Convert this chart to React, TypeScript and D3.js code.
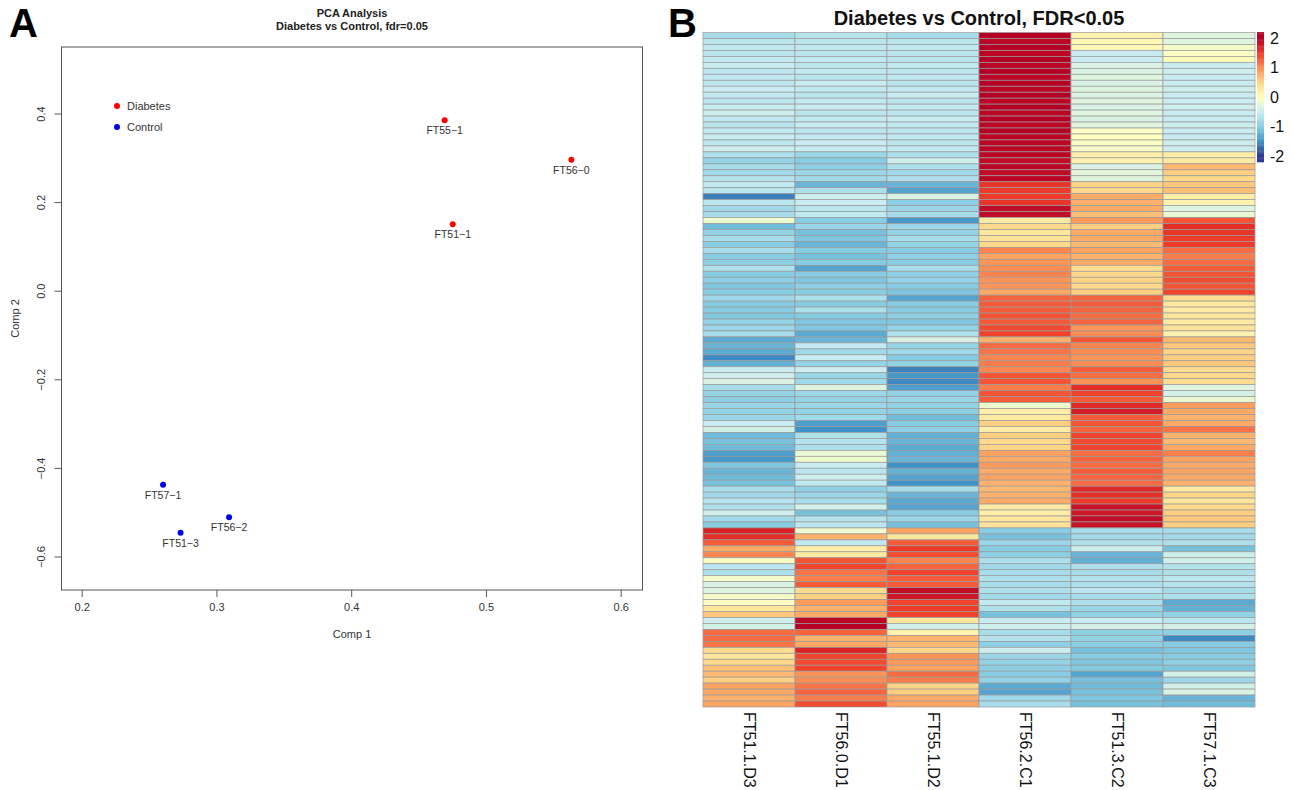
import React from 'react';
import * as d3 from 'd3';

// ---------- PCA data ----------
const pcaSamples = ['FT55−1', 'FT56−0', 'FT51−1', 'FT57−1', 'FT56−2', 'FT51−3'];
const pcaComp1 = [0.469, 0.563, 0.475, 0.26, 0.309, 0.273];
const pcaComp2 = [0.386, 0.297, 0.151, -0.437, -0.51, -0.545];
const pcaGroup = ['Diabetes', 'Diabetes', 'Diabetes', 'Control', 'Control', 'Control'];
const groups = ['Diabetes', 'Control'];
const groupColors = ['#ff0000', '#0000ee'];
const xTicks = [0.2, 0.3, 0.4, 0.5, 0.6];
const yTicks = [-0.6, -0.4, -0.2, 0.0, 0.2, 0.4];

// ---------- Heatmap data ----------
const columns = ['FT51.1.D3', 'FT56.0.D1', 'FT55.1.D2', 'FT56.2.C1', 'FT51.3.C2', 'FT57.1.C3'];
const col1 = [
  -0.75, -0.6, -0.55, -0.6, -0.55, -0.5, -0.6, -0.55, -0.6, -0.5, -0.55, -0.6, -0.5, -0.45, -0.55, -0.6, -0.55, -0.5, -0.6, -0.45,
  -0.7, -0.9, -0.75, -0.8, -0.65, -0.55, -0.6, -1.6, -0.6, -0.8, -0.75, -0.15, -1.15, -0.9, -0.75, -1.0, -0.75, -1.0,
  -0.95, -0.7, -1.0, -0.95, -1.05, -1.0, -0.8, -1.0, -1.0, -1.05, -0.9, -0.85, -0.75, -1.3, -1.2, -1.3, -1.55, -1.25, -0.5, -0.45,
  -0.35, -0.75, -0.9, -0.95, -0.85, -0.9, -0.85, -0.5, -0.4, -1.15, -1.1, -1.15, -1.4, -1.45, -1.05, -1.2, -1.15, -1.1, -0.75, -0.8,
  -0.65, -0.7, -0.45, -0.8, -1.0, 1.7, 1.6, 1.3, 0.8, 1.05, -0.05, -0.6, -0.7, -0.1, -0.35, -0.3, -0.1, -0.05,
  0.3, 0.6, -0.45, -0.4, 1.2, 1.2, 1.15, 0.4, 0.3, 0.45, 0.65, 0.7, 0.55, 0.85, 0.8, 0.75, 0.85,
];
const col2 = [
  -0.65, -0.6, -0.55, -0.6, -0.55, -0.6, -0.55, -0.6, -0.5, -0.55, -0.6, -0.55, -0.5, -0.6, -0.55, -0.5, -0.6, -0.55, -0.5, -0.5,
  -0.85, -1.0, -0.95, -0.85, -0.8, -1.2, -0.7, -0.45, -0.5, -0.6, -0.55, -1.0, -0.85, -1.1, -1.05, -1.2, -1.0, -1.1,
  -1.0, -1.35, -1.0, -1.05, -0.95, -1.0, -0.7, -1.0, -0.7, -1.0, -1.05, -1.05, -1.3, -1.2, -0.55, -0.8, -0.5, -0.9, -0.45, -0.85,
  -0.8, -0.3, -0.85, -0.9, -0.85, -0.9, -0.8, -1.4, -1.5, -0.7, -0.65, -0.7, -0.2, -0.15, -0.5, -0.6, -0.45, -0.55, -0.95, -0.85,
  -0.75, -0.4, -1.1, -0.65, -0.6, -0.15, 0.75, -0.55, 0.2, 0.25, 1.35, 1.45, 1.15, 1.1, 1.3, 0.4, 0.55, 0.9,
  0.75, 0.8, 1.95, 2.0, 1.25, 0.75, 0.8, 1.7, 1.45, 1.4, 1.45, 0.95, 1.0, 1.15, 1.25, 1.1, 1.4,
];
const col3 = [
  -0.75, -0.6, -0.55, -0.6, -0.6, -0.55, -0.6, -0.55, -0.6, -0.55, -0.5, -0.6, -0.55, -0.6, -0.5, -0.55, -0.6, -0.55, -0.6, -0.55,
  -0.7, -0.45, -0.7, -0.8, -0.7, -1.2, -1.35, -0.35, -0.95, -0.85, -0.75, -1.45, -0.85, -0.9, -0.75, -0.9, -1.0, -0.95,
  -1.0, -0.75, -0.95, -0.9, -1.0, -1.05, -1.35, -1.0, -1.0, -0.95, -1.05, -0.9, -0.7, -0.35, -0.9, -0.8, -1.0, -0.9, -1.6, -1.45,
  -1.55, -1.4, -0.9, -0.85, -0.9, -0.95, -1.15, -1.0, -0.95, -1.25, -1.2, -1.3, -1.25, -1.2, -1.5, -1.25, -1.35, -1.5, -0.75, -1.2,
  -1.3, -1.35, -1.0, -0.85, -1.1, 0.85, 0.3, 1.3, 1.5, 1.4, 1.05, 1.25, 1.45, 1.3, 1.3, 1.9, 1.8, 1.45,
  1.5, 1.45, 0.3, -0.4, 0.15, 0.75, 0.7, 0.45, 0.95, 0.9, 0.85, 1.2, 1.1, 0.5, 0.55, 0.8, 0.85,
];
const col4 = [
  2.0, 1.95, 2.0, 1.95, 2.0, 1.95, 2.0, 1.95, 2.0, 1.95, 2.0, 1.95, 2.0, 1.95, 2.0, 1.95, 2.0, 1.95, 1.95, 1.95,
  1.95, 1.9, 1.95, 1.9, 1.95, 1.55, 1.5, 1.5, 1.55, 1.9, 1.9, 0.25, 0.45, 0.3, 0.35, 0.45, 1.05, 0.85,
  0.95, 1.0, 1.05, 0.95, 0.95, 0.8, 1.25, 1.3, 1.3, 1.35, 1.3, 1.4, 1.45, 0.75, 1.2, 1.15, 1.05, 1.1, 1.05, 1.35,
  1.35, 1.1, 1.35, 1.3, -0.15, 0.2, 0.25, 0.55, 0.2, 0.55, 0.45, 0.5, 0.85, 0.8, 0.9, 0.8, 0.85, 0.75, 0.7, 0.75,
  0.8, 0.25, 0.2, 0.3, 0.35, -1.0, -1.1, -0.85, -1.0, -0.95, -0.7, -0.8, -0.75, -0.7, -0.75, -0.7, -0.8, -0.55,
  -0.7, -1.1, -0.5, -0.45, -0.75, -0.65, -0.95, -0.45, -0.85, -0.9, -0.95, -1.0, -0.9, -1.3, -1.35, -0.8, -0.75,
];
const col5 = [
  0.15, 0.1, 0.1, -0.5, -0.5, -0.35, -0.35, -0.3, -0.35, -0.3, -0.35, -0.3, -0.35, -0.3, -0.35, -0.3, -0.05, 0.0, -0.05, -0.1,
  0.2, 0.15, -0.35, -0.25, -0.3, 0.5, 0.45, 0.8, 0.75, 0.8, 0.65, 0.9, 0.55, 0.8, 0.8, 0.7, 0.85, 0.75,
  0.8, 0.4, 0.45, 0.5, 0.45, 0.55, 1.25, 1.3, 1.25, 1.2, 1.25, 0.95, 1.0, 1.35, 1.05, 1.0, 0.95, 1.0, 1.3, 1.2,
  0.95, 1.6, 1.45, 1.3, 1.65, 1.75, 1.3, 1.35, 1.25, 1.45, 1.4, 1.45, 1.2, 1.25, 1.2, 1.3, 1.25, 1.2, 1.65, 1.6,
  1.5, 1.85, 1.8, 1.9, 1.85, -0.75, -0.8, -0.7, -0.45, -1.2, -1.25, -0.7, -0.75, -0.65, -0.7, -0.6, -0.75, -0.7,
  -0.85, -0.9, -0.5, -0.4, -0.95, -0.9, -0.95, -1.1, -1.0, -1.05, -1.0, -1.35, -1.1, -1.15, -1.1, -1.05, -1.1,
];
const col6 = [
  -0.3, -0.3, -0.1, -0.05, 0.05, -0.5, -0.45, -0.5, -0.5, -0.45, -0.5, -0.5, -0.45, -0.5, -0.5, -0.45, -0.5, -0.5, -0.45, -0.45,
  0.2, 0.25, 0.7, 0.55, 0.45, 0.6, 0.65, 0.2, 0.15, -0.3, -0.2, 1.35, 1.6, 1.55, 1.5, 1.5, 1.2, 1.1,
  1.2, 1.3, 1.35, 1.4, 1.35, 1.45, 0.4, 0.3, 0.25, 0.3, 0.25, 0.35, 0.15, 0.7, 0.6, 0.5, 0.55, 0.6, 0.4, 0.45,
  0.4, -0.3, -0.4, -0.2, 0.9, 0.8, 0.75, 0.8, 1.15, 0.75, 0.7, 0.8, 1.1, 0.85, 0.8, 0.85, 0.8, 0.75, 0.25, 0.5,
  0.3, 0.45, 0.55, 0.6, 0.55, -0.75, -0.8, -0.7, -1.1, -0.45, -0.4, -0.65, -0.7, -0.6, -0.65, -0.75, -0.7, -1.3,
  -1.25, -0.9, -0.6, -0.4, -0.95, -1.55, -1.0, -1.05, -1.0, -0.95, -1.05, -0.4, -0.85, -0.4, -0.35, -1.2, -1.15,
];
const heatValues = [col1, col2, col3, col4, col5, col6];
const legendTicks = [2, 1, 0, -1, -2];
const colorStops = [-2, -1.5, -1, -0.5, 0, 0.5, 1, 1.5, 2];
const colorRange = ['#313695', '#3f92c6', '#86cde3', '#c8ecf2', '#ffffbf', '#fed586', '#fc8d52', '#ee3b29', '#b50026'];

const FONT = '"Liberation Sans", Arial, Helvetica, sans-serif';

export default function App() {
  // PCA scales
  const x = d3.scaleLinear().domain([0.2, 0.6]).range([82.2, 621.2]);
  const y = d3.scaleLinear().domain([-0.6, 0.4]).range([557, 114]);
  const box = { l: 61.5, r: 642.5, t: 47, b: 590 };
  const gColor = d3.scaleOrdinal<string, string>().domain(groups).range(groupColors);
  const fmt = d3.format('.1f');

  // Heatmap scales
  const nRows = col1.length;
  const xb = d3.scaleBand<string>().domain(columns).range([703, 1255]);
  const yb = d3.scaleBand<number>().domain(d3.range(nRows)).range([32.5, 707]);
  const color = d3.scaleLinear<string>().domain(colorStops).range(colorRange).clamp(true);
  const legY = d3.scaleLinear().domain([2, -2]).range([38, 156]);
  const legSteps = d3.range(-2.2, 2.2, 0.04);

  return (
    <svg width={1293} height={790} style={{ position: 'absolute', left: 0, top: 0, background: '#fff' }} fontFamily={FONT}>
      <rect width={1293} height={790} fill="#fff" />
      {/* Panel letters */}
      <text x={9} y={37} fontSize={40} fontWeight="bold" fill="#000">A</text>
      <text x={668} y={37} fontSize={40} fontWeight="bold" fill="#000">B</text>

      {/* ---------- PCA ---------- */}
      <text x={(box.l + box.r) / 2} y={17} fontSize={11} fontWeight="bold" textAnchor="middle" fill="#222">PCA Analysis</text>
      <text x={(box.l + box.r) / 2} y={30} fontSize={11} fontWeight="bold" textAnchor="middle" fill="#222">Diabetes vs Control, fdr=0.05</text>
      <rect x={box.l} y={box.t} width={box.r - box.l} height={box.b - box.t} fill="none" stroke="#555" strokeWidth={1} />
      {xTicks.map((t) => (
        <g key={'xt' + t}>
          <line x1={x(t)} x2={x(t)} y1={box.b} y2={box.b + 7} stroke="#555" />
          <text x={x(t)} y={611} fontSize={11} textAnchor="middle" fill="#333">{fmt(t)}</text>
        </g>
      ))}
      {yTicks.map((t) => (
        <g key={'yt' + t}>
          <line x1={box.l - 7} x2={box.l} y1={y(t)} y2={y(t)} stroke="#555" />
          <text transform={`translate(44.5,${y(t)}) rotate(-90)`} fontSize={11} textAnchor="middle" fill="#333">{fmt(t)}</text>
        </g>
      ))}
      <text x={(box.l + box.r) / 2} y={638} fontSize={11} textAnchor="middle" fill="#333">Comp 1</text>
      <text transform={`translate(19,${(box.t + box.b) / 2}) rotate(-90)`} fontSize={11} textAnchor="middle" fill="#333">Comp 2</text>
      {pcaSamples.map((s, i) => (
        <g key={s}>
          <circle cx={x(pcaComp1[i])} cy={y(pcaComp2[i])} r={3} fill={gColor(pcaGroup[i])} />
          <text x={x(pcaComp1[i])} y={y(pcaComp2[i]) + 14} fontSize={10.5} textAnchor="middle" fill="#333">{s}</text>
        </g>
      ))}
      {groups.map((g, i) => (
        <g key={g}>
          <circle cx={117} cy={106 + i * 21} r={3} fill={gColor(g)} />
          <text x={127} y={110 + i * 21} fontSize={11} fill="#333">{g}</text>
        </g>
      ))}

      {/* ---------- Heatmap ---------- */}
      <text x={979} y={25} fontSize={20} fontWeight="bold" textAnchor="middle" fill="#111">Diabetes vs Control, FDR&lt;0.05</text>
      {heatValues.map((vals, c) =>
        vals.map((v, r) => (
          <rect
            key={c + '-' + r}
            x={xb(columns[c])}
            y={yb(r)}
            width={xb.bandwidth()}
            height={yb.bandwidth()}
            fill={color(v)}
            stroke="#9a9a9a"
            strokeWidth={0.7}
          />
        ))
      )}
      {columns.map((c) => (
        <text
          key={c}
          transform={`translate(${(xb(c) as number) + xb.bandwidth() / 2},712) rotate(90)`}
          fontSize={16}
          dominantBaseline="central"
          fill="#111"
        >
          {c}
        </text>
      ))}
      {/* color legend */}
      {legSteps.map((v) => (
        <rect key={'lg' + v.toFixed(2)} x={1257} y={legY(v + 0.04)} width={7} height={Math.abs(legY(v) - legY(v + 0.04)) + 0.4} fill={color(v + 0.02)} />
      ))}
      {legendTicks.map((t) => (
        <text key={'lt' + t} x={1270} y={legY(t)} fontSize={16} dominantBaseline="central" fill="#111">{t}</text>
      ))}
    </svg>
  );
}
